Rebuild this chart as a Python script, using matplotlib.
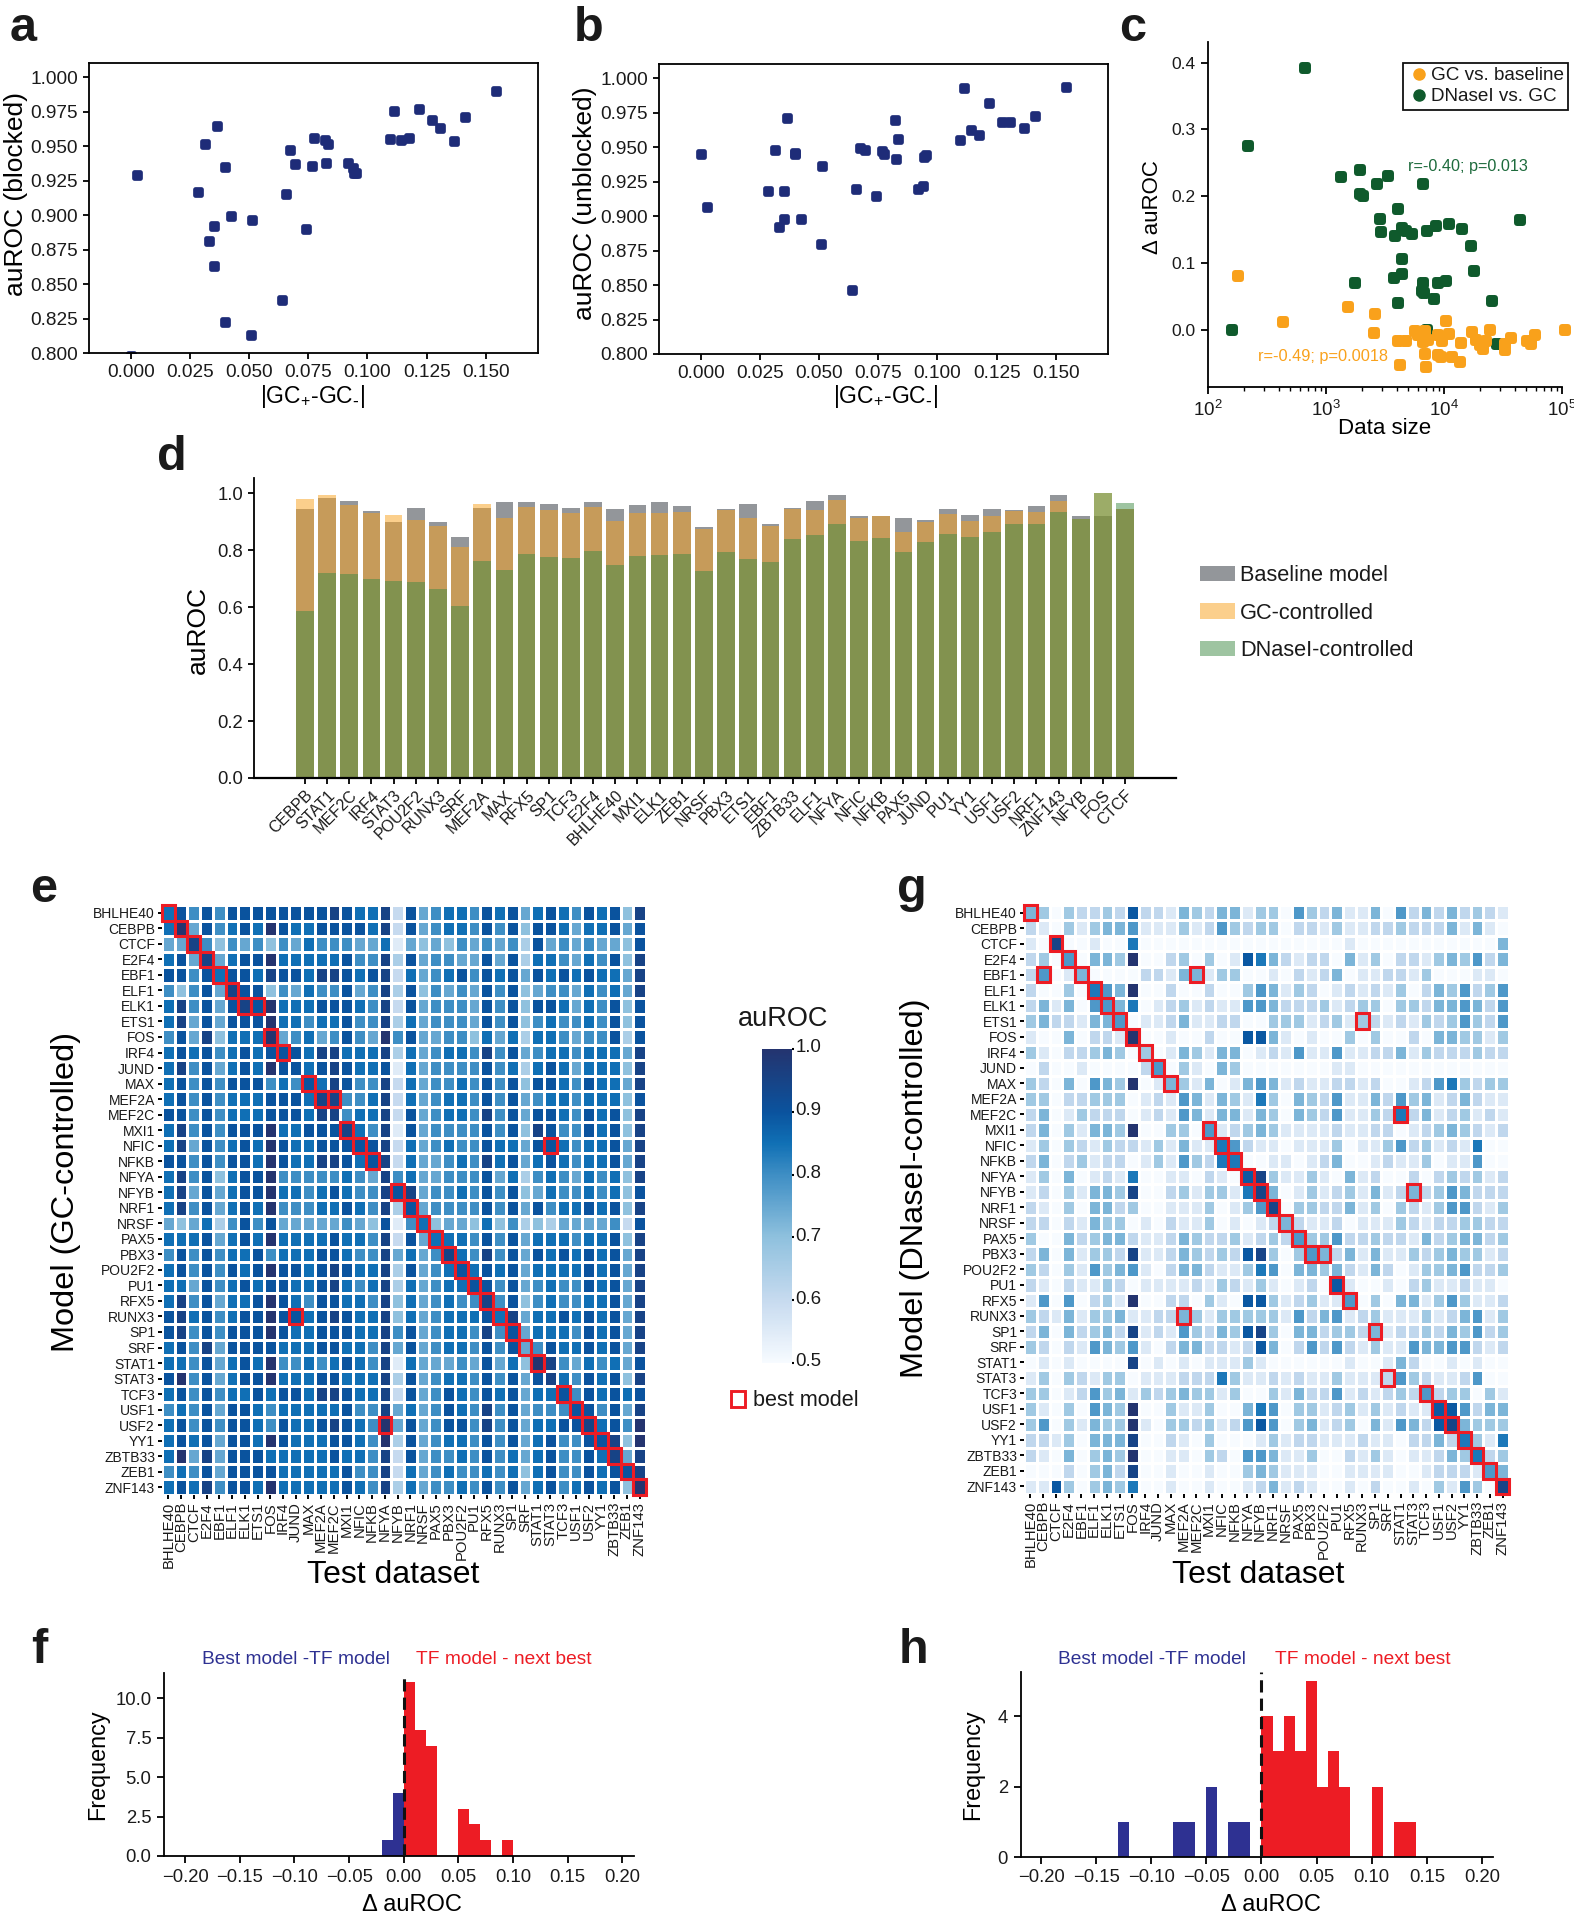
"""Figure with GC / DNaseI model comparison: scatter, bars, heatmaps, histograms."""

import matplotlib
matplotlib.use('Agg')
import matplotlib.pyplot as plt
import numpy as np
from matplotlib.colors import LinearSegmentedColormap
from matplotlib.lines import Line2D
from matplotlib.patches import Rectangle
from matplotlib.transforms import ScaledTranslation

plt.rcParams['font.family'] = ['Liberation Sans', 'DejaVu Sans']
plt.rcParams['mathtext.default'] = 'regular'
plt.rcParams['axes.linewidth'] = 1.3
plt.rcParams['text.color'] = '#1a1a1a'
plt.rcParams['xtick.labelcolor'] = '#1a1a1a'
plt.rcParams['ytick.labelcolor'] = '#1a1a1a'

W, H = 1574, 1920

NAVY = '#1e2c78'
BLUE = '#2e3192'
RED = '#ed1c24'
ORANGE = '#f9a11b'
GREEN = '#0f5a2c'

# panels a, b
gc_diff = [0, .0027, .0286, .0315, .0329, .035, .0352, .0365, .0398, .04, .0424, .0508, .0514,
           .0641, .0656, .0674, .0694, .0739, .0767, .0774, .082, .0823, .0833, .0917, .0938,
           .0944, .0953, .1094, .1114, .1141, .1174, .1217, .1274, .1305, .1364, .1411, .1542]
auroc_blocked = [.798, .9288, .9165, .9518, .8816, .892, .8632, .9646, .8228, .9351, .8993, .8131,
                 .8966, .8385, .915, .9475, .9368, .8901, .9354, .9559, .9547, .9375, .9516, .9375,
                 .9344, .9308, .9308, .955, .9755, .9545, .9562, .9772, .969, .9632, .954, .9714,
                 .9901]
auroc_unblocked = [.9448, .9065, .9186, .9482, .8923, .9186, .8983, .9714, .9448, .946, .8976, .8801,
                   .9363, .8465, .9199, .9494, .9479, .9143, .947, .9453, .9695, .9412, .9562, .9194,
                   .9218, .9431, .9441, .9552, .9927, .9625, .9591, .9823, .968, .968, .9637, .9726,
                   .9935]
ab_yticks = [.8, .825, .85, .875, .9, .925, .95, .975, 1.0]
ab_xticks = [0, .025, .05, .075, .1, .125, .15]

# panel c
dnase_size = [160, 663, 218, 1337, 1936, 2698, 3342, 6653, 1936, 2039, 4036, 2859, 2934, 3880, 4390,
              4808, 5370, 7195, 8515, 11050, 14140, 43800, 17060, 4390, 17870, 1745, 3755, 4390, 6653,
              8810, 10350, 6486, 6740, 8300, 4115, 25700, 7240, 28350]
dnase_delta = [0, .3925, .2753, .2294, .2394, .218, .2309, .218, .2035, .201, .1815, .1656, .1466,
               .1401, .1526, .1486, .1441, .1486, .1561, .1586, .1506, .1646, .1262, .1062, .0873,
               .0708, .0778, .0828, .0708, .0703, .0733, .0574, .0549, .0464, .0399, .0424, 0, -.0209]
gc_size = [181, 434, 1532, 2610, 2528, 10490, 5692, 6040, 6871, 6653, 7330, 4087, 4808, 8810, 9705,
           10970, 13870, 17400, 18830, 20090, 21430, 22860, 24720, 37240, 33130, 33130, 50550, 54970,
           58700, 105300, 6871, 8810, 9510, 11720, 13600, 4276, 7060]
gc_delta = [.0803, .012, .0339, .0239, -.0055, .0135, -.0025, -.008, -.0025, -.0185, -.015, -.0165,
            -.0165, -.0075, -.0165, -.0065, -.02, -.003, -.016, -.0224, -.0284, -.017, -.001, -.013,
            -.0214, -.0309, -.017, -.0214, -.0075, -.0005, -.0369, -.0374, -.0414, -.0414, -.0489,
            -.0524, -.0559]

# panel d
bar_tfs = ['CEBPB', 'STAT1', 'MEF2C', 'IRF4', 'STAT3', 'POU2F2', 'RUNX3', 'SRF', 'MEF2A', 'MAX',
           'RFX5', 'SP1', 'TCF3', 'E2F4', 'BHLHE40', 'MXI1', 'ELK1', 'ZEB1', 'NRSF', 'PBX3', 'ETS1',
           'EBF1', 'ZBTB33', 'ELF1', 'NFYA', 'NFIC', 'NFKB', 'PAX5', 'JUND', 'PU1', 'YY1', 'USF1',
           'USF2', 'NRF1', 'ZNF143', 'NFYB', 'FOS', 'CTCF']
baseline_auroc = [.945, .982, .972, .938, .898, .948, .898, .845, .946, .968, .970, .961, .946, .970,
                  .944, .959, .968, .954, .881, .944, .963, .891, .947, .972, .993, .919, .918, .913,
                  .905, .944, .922, .943, .941, .954, .992, .919, .92, .944]
gc_auroc = [.980, .994, .957, .930, .922, .907, .885, .81, .963, .912, .952, .941, .931, .952, .903,
            .931, .930, .934, .874, .940, .911, .885, .944, .94, .975, .911, .918, .865, .9, .926,
            .903, .919, .937, .934, .973, .909, 1.0, .944]
dnase_auroc = [.587, .718, .717, .697, .692, .689, .665, .605, .76, .73, .787, .776, .772, .796, .749,
               .779, .782, .787, .726, .795, .770, .759, .84, .852, .893, .833, .843, .794, .829,
               .856, .847, .865, .891, .891, .934, .909, 1.0, .965]

# panels e, g
tfs = ['BHLHE40', 'CEBPB', 'CTCF', 'E2F4', 'EBF1', 'ELF1', 'ELK1', 'ETS1', 'FOS', 'IRF4', 'JUND',
       'MAX', 'MEF2A', 'MEF2C', 'MXI1', 'NFIC', 'NFKB', 'NFYA', 'NFYB', 'NRF1', 'NRSF', 'PAX5',
       'PBX3', 'POU2F2', 'PU1', 'RFX5', 'RUNX3', 'SP1', 'SRF', 'STAT1', 'STAT3', 'TCF3', 'USF1',
       'USF2', 'YY1', 'ZBTB33', 'ZEB1', 'ZNF143']

# one digit per cell, auROC = 0.5 + step * digit, A = 10
gc_rows = [
    '7 8 6 8 6 8 8 8 8 8 8 8 8 9 8 7 7 9 2 8 5 6 7 7 6 8 7 8 5 7 8 7 6 8 7 8 4 9',
    '7 A 5 8 6 7 8 7 A 8 7 7 8 8 8 8 7 9 2 8 5 6 7 7 6 8 6 8 4 8 8 7 5 7 7 8 5 8',
    '5 5 9 6 4 6 5 6 4 6 5 7 6 6 6 5 5 7 1 5 4 5 4 6 5 6 5 6 3 8 5 6 5 6 5 5 4 8',
    '7 8 5 9 5 7 8 8 A 7 7 7 7 7 8 6 6 9 3 8 5 6 6 5 5 8 5 8 3 7 7 6 5 7 6 8 4 9',
    '8 8 6 8 7 8 8 7 9 8 8 7 9 9 8 7 8 9 2 7 5 6 7 8 6 8 7 8 5 8 7 8 7 8 7 7 5 9',
    '6 4 6 8 5 9 8 8 4 6 5 7 6 6 8 5 6 9 3 8 4 6 5 6 5 8 6 8 4 5 6 6 5 7 6 7 5 9',
    '7 9 6 8 5 8 9 8 A 7 7 7 8 8 8 7 6 9 2 8 5 6 6 6 5 8 6 8 4 8 8 7 5 7 6 8 4 8',
    '7 9 5 8 5 8 8 8 A 7 7 6 7 7 8 6 6 9 3 7 5 6 6 6 5 8 6 8 4 6 7 6 6 7 6 8 4 8',
    '6 8 5 9 4 7 7 7 A 5 6 7 5 6 8 6 5 A 6 8 5 5 6 6 4 7 5 7 3 7 7 6 5 6 6 8 3 8',
    '7 8 7 8 6 7 8 7 8 8 8 7 9 9 7 7 7 9 3 7 5 6 7 7 6 9 6 8 5 6 7 7 6 7 7 7 5 9',
    '7 9 6 8 5 7 8 7 A 8 8 7 8 9 8 7 7 8 1 7 5 6 6 6 6 8 6 7 3 7 8 7 5 7 7 7 4 9',
    '7 8 6 8 6 8 8 8 6 7 6 8 7 9 8 6 6 9 2 7 5 6 6 7 6 8 6 8 4 8 8 7 6 8 7 7 5 9',
    '7 8 6 8 6 7 7 7 8 8 8 7 9 9 6 6 7 9 2 7 5 6 7 7 6 8 6 8 5 6 7 7 6 7 7 7 4 8',
    '8 8 6 8 6 7 7 7 8 8 8 7 9 9 6 7 7 9 2 8 5 6 7 7 6 9 6 8 5 8 8 7 6 8 7 8 4 9',
    '7 9 6 8 6 8 8 8 A 7 7 8 8 8 9 7 6 9 1 8 5 6 6 6 6 8 6 8 4 9 8 6 6 8 7 8 4 9',
    '7 9 5 8 6 7 8 7 A 8 7 7 8 8 8 8 8 9 2 7 5 6 7 6 6 8 7 7 5 8 8 7 6 7 7 8 5 9',
    '8 8 6 8 6 8 8 7 A 8 7 7 9 9 8 7 8 9 2 7 5 5 6 7 6 9 7 8 5 7 8 7 6 7 7 8 5 9',
    '7 9 6 8 4 7 8 8 A 6 6 6 6 6 7 6 5 9 6 7 5 5 6 6 6 8 5 7 3 6 7 6 5 7 6 7 4 9',
    '7 9 5 8 5 7 8 8 A 7 7 6 7 8 7 6 6 9 8 9 5 6 6 7 6 8 6 8 4 5 7 6 6 7 6 7 4 8',
    '7 9 6 8 5 7 8 7 A 6 6 6 7 7 8 7 6 9 3 8 5 6 6 6 6 8 6 8 5 8 6 7 7 8 7 8 4 9',
    '5 4 5 7 3 6 8 6 8 5 5 5 5 5 6 5 4 8 1 6 7 4 5 5 4 7 4 6 3 4 3 5 5 5 5 6 2 8',
    '7 7 7 8 5 7 8 7 A 7 7 7 7 8 7 7 6 9 2 8 5 7 7 7 6 8 6 8 5 7 7 7 6 7 7 8 4 9',
    '6 8 6 8 6 7 7 8 6 7 7 7 8 8 7 6 6 9 5 7 5 6 9 7 6 9 6 8 5 8 7 8 7 8 7 8 5 9',
    '7 8 6 8 6 8 7 8 A 8 8 7 8 9 8 7 7 9 3 8 5 6 7 8 7 8 7 8 5 7 7 7 7 8 7 8 5 9',
    '7 7 5 8 6 7 8 7 8 8 7 7 8 9 7 6 7 9 3 7 5 6 7 7 8 8 6 8 5 6 7 6 6 8 7 8 5 9',
    '7 9 6 8 5 7 7 8 A 8 7 6 8 8 7 7 6 9 4 7 5 6 7 6 6 9 6 8 4 6 7 6 6 7 7 8 5 9',
    '8 9 7 8 6 7 8 8 A 8 8 7 8 9 8 7 7 9 4 7 5 6 7 7 7 8 7 9 5 7 7 8 7 8 7 8 5 9',
    '8 9 6 8 6 8 8 8 A 8 7 7 8 8 8 7 7 9 6 8 5 6 7 7 6 9 6 8 5 7 7 7 6 8 7 8 5 9',
    '7 8 6 9 5 8 8 8 8 7 7 7 8 8 7 7 6 9 5 8 5 6 7 7 6 8 6 8 5 6 8 7 7 8 7 8 5 9',
    '7 7 6 8 5 7 8 7 A 6 6 7 6 7 8 7 6 9 1 7 5 5 5 6 5 8 5 7 4 A 9 6 5 7 6 7 5 8',
    '8 A 6 8 5 7 8 8 A 7 7 7 8 8 7 7 7 9 3 8 5 6 7 7 6 8 6 8 5 8 9 7 6 8 7 8 4 9',
    '7 8 6 8 6 7 7 8 7 8 8 7 9 9 8 7 7 9 2 8 5 6 8 7 6 8 7 8 5 7 7 8 6 8 7 8 7 8',
    '6 7 6 8 5 8 8 7 6 7 7 7 7 7 8 6 6 9 5 7 5 6 8 7 6 9 6 8 5 6 6 6 8 8 6 8 5 9',
    '7 8 6 8 6 8 8 7 6 8 7 7 8 9 8 7 6 A 5 8 5 6 8 8 6 9 6 8 5 7 7 8 8 9 7 8 6 A',
    '7 8 7 8 5 8 8 7 A 8 7 7 7 8 8 7 6 A 3 8 5 6 7 7 6 8 6 8 5 7 8 6 6 8 8 9 4 A',
    '7 A 5 9 5 8 8 8 7 7 7 7 7 8 7 7 6 9 2 8 5 6 6 7 6 8 6 7 5 7 8 6 6 8 7 9 5 9',
    '6 7 6 8 5 8 8 8 8 7 7 7 7 7 8 6 6 9 2 7 5 6 7 6 6 7 6 7 4 7 8 6 6 8 7 8 8 9',
    '7 8 7 9 6 8 8 7 A 7 7 7 7 7 8 7 6 9 3 7 5 6 6 7 6 8 6 8 5 7 8 6 7 8 7 8 4 A',
]
dnase_rows = [
    '4 3 0 3 2 2 3 2 7 2 2 1 4 3 2 4 4 1 3 3 0 5 3 2 4 1 1 4 0 5 2 4 2 4 2 3 2 1',
    '2 1 0 3 1 3 4 4 5 1 1 1 3 1 2 5 3 2 3 3 0 2 2 1 3 1 1 2 2 3 2 2 2 4 1 4 1 0',
    '1 0 8 0 0 1 0 0 6 0 0 0 0 0 0 0 0 0 0 0 0 0 0 0 0 1 0 0 0 0 0 0 0 0 0 0 0 4',
    '2 3 0 5 0 4 4 3 A 0 0 2 3 0 3 0 1 7 6 4 2 1 2 2 0 4 1 3 0 2 2 1 3 4 3 5 2 4',
    '2 5 0 1 4 0 0 0 0 2 2 1 4 4 1 3 3 0 0 1 0 2 1 2 4 0 1 1 2 2 1 3 0 0 0 1 1 0',
    '2 0 0 3 0 6 5 4 A 0 0 2 0 0 2 0 0 3 5 4 1 3 2 0 1 2 1 2 1 3 0 2 4 3 5 2 3 5',
    '2 4 1 4 0 5 5 4 6 0 1 2 3 1 2 1 1 5 5 4 2 2 2 3 1 2 3 3 0 3 3 2 4 4 5 4 2 5',
    '3 4 2 2 1 4 4 5 0 1 1 2 4 1 1 2 2 0 0 3 3 3 1 2 3 1 3 2 1 2 1 3 2 3 5 3 2 5',
    '1 0 0 4 0 2 2 1 A 0 0 1 0 0 2 0 0 7 7 4 1 0 1 0 0 3 0 3 0 0 2 0 4 4 3 3 1 3',
    '3 1 0 2 2 3 4 3 0 3 0 1 4 3 1 4 4 0 1 2 1 5 1 1 5 1 1 2 2 4 1 3 2 2 2 3 2 2',
    '0 2 0 0 1 0 0 0 0 2 5 0 3 1 0 4 3 0 0 0 0 0 0 0 1 1 0 0 0 0 0 0 0 0 0 0 0 0',
    '3 2 0 4 0 5 4 3 A 0 1 4 3 1 4 0 1 4 5 4 1 2 1 1 2 2 1 2 0 0 1 2 5 6 3 2 3 3',
    '3 3 0 2 2 3 3 3 0 1 2 1 5 4 1 4 3 1 6 3 0 4 3 2 5 1 1 4 2 5 3 4 1 2 4 2 1 1',
    '2 4 0 1 3 2 2 2 0 1 2 1 5 4 1 4 4 1 4 3 0 4 3 2 5 1 1 3 2 6 2 4 1 2 3 1 2 1',
    '2 4 0 3 1 4 4 3 A 0 0 3 3 0 5 1 2 3 4 3 1 1 1 1 2 1 1 2 2 0 1 2 3 4 3 2 1 2',
    '1 3 0 3 2 1 3 2 2 1 3 1 4 1 1 6 5 2 1 1 0 1 1 1 3 0 1 1 3 5 2 3 1 2 1 6 0 0',
    '2 4 0 2 3 1 2 2 0 1 3 1 5 3 2 6 6 0 0 1 1 0 1 2 4 0 0 1 2 1 1 3 0 1 1 5 0 0',
    '1 3 0 4 0 1 2 1 6 0 0 1 1 0 2 1 0 7 8 3 1 1 3 1 0 4 1 2 0 0 2 0 2 3 2 3 1 2',
    '1 2 0 3 1 4 4 3 8 0 0 2 3 1 3 3 1 6 8 4 0 1 3 1 2 3 1 4 1 2 4 2 3 5 4 2 2 2',
    '2 1 0 3 0 4 4 2 3 0 0 1 1 1 3 0 1 3 5 8 0 3 3 2 2 4 1 3 0 3 2 1 3 5 5 2 1 3',
    '2 2 0 2 1 4 3 3 0 1 0 2 1 1 3 0 1 0 1 2 4 2 1 1 2 0 1 1 1 3 2 1 2 2 3 3 2 2',
    '3 0 0 4 2 3 4 4 2 1 1 2 4 3 2 2 3 1 2 3 2 5 3 3 5 2 2 3 2 2 1 4 2 3 4 4 2 3',
    '2 4 0 4 1 3 3 2 8 1 1 2 4 3 2 3 2 7 8 3 0 3 5 4 2 4 1 4 1 1 3 2 3 4 3 3 1 2',
    '3 2 0 3 1 5 3 4 5 1 0 2 4 4 2 1 1 3 6 5 0 4 4 3 4 2 1 4 2 0 1 3 3 4 5 2 2 3',
    '2 1 0 2 1 1 3 2 0 1 1 1 1 2 1 3 2 1 3 1 0 1 2 0 7 1 0 0 1 0 2 3 1 1 2 1 1 0',
    '1 5 0 5 0 2 3 1 A 0 0 2 2 0 3 1 0 7 7 3 1 2 3 1 1 5 0 3 0 4 4 1 3 5 3 1 1 2',
    '3 2 1 4 1 3 3 4 1 1 2 2 4 3 1 3 3 3 3 3 1 5 2 4 5 1 2 3 1 1 1 3 1 2 4 5 1 3',
    '2 4 0 4 2 3 4 2 8 1 2 1 5 3 2 4 3 7 8 3 0 4 4 2 3 3 2 4 1 2 2 3 2 4 3 5 2 3',
    '3 2 0 2 1 5 4 3 5 1 0 2 4 4 2 2 1 2 7 4 0 2 5 2 5 2 1 3 1 1 5 4 4 5 5 2 1 2',
    '0 1 0 1 0 0 0 0 8 0 1 0 1 0 1 1 1 3 1 0 0 0 0 0 0 1 0 0 1 4 2 0 0 1 0 1 0 0',
    '1 3 0 3 2 1 3 3 0 1 1 1 2 2 2 6 3 1 1 2 1 2 1 1 3 1 1 1 2 5 3 2 1 1 2 5 0 0',
    '3 3 0 1 2 5 3 4 1 3 2 3 4 3 3 1 3 0 0 3 1 4 2 2 5 1 2 1 2 3 2 5 2 3 3 0 3 1',
    '3 1 0 3 0 5 4 3 A 0 0 3 1 1 3 0 0 4 6 5 0 3 3 1 2 3 1 3 1 2 1 1 7 7 5 2 4 4',
    '3 5 0 3 1 4 3 3 A 1 0 3 3 2 3 1 2 5 7 5 0 3 4 1 2 3 0 4 1 5 4 2 7 8 4 3 3 3',
    '2 2 1 3 0 4 4 4 8 0 0 2 1 0 3 0 0 0 1 3 1 2 2 1 1 1 2 1 1 0 2 2 4 2 6 3 1 6',
    '2 1 0 4 0 3 4 3 A 0 0 1 1 0 3 2 0 5 5 4 1 1 3 0 0 2 1 3 1 0 1 1 2 4 3 6 2 3',
    '0 0 0 2 0 3 4 2 8 0 0 1 0 0 1 0 0 3 4 3 1 1 1 0 0 1 1 1 1 0 0 1 2 2 2 1 5 4',
    '1 1 7 3 0 3 4 3 6 0 0 1 0 0 1 0 0 1 2 4 1 2 1 0 0 1 0 2 0 0 1 0 3 1 5 3 0 8',
]

# (row, column) of the best-model cells
gc_best = [(0, 0), (1, 1), (2, 2), (3, 3), (4, 4), (5, 5), (6, 6), (6, 7), (8, 8), (9, 9), (11, 11),
           (12, 12), (12, 13), (14, 14), (15, 15), (15, 30), (16, 16), (18, 18), (19, 19), (20, 20),
           (21, 21), (22, 22), (23, 23), (24, 24), (25, 25), (26, 26), (26, 10), (27, 27), (28, 28),
           (29, 29), (31, 31), (32, 32), (33, 33), (33, 17), (34, 34), (35, 35), (36, 36), (37, 37)]
dnase_best = [(0, 0), (2, 2), (3, 3), (4, 1), (4, 4), (4, 13), (5, 5), (6, 6), (7, 7), (7, 26), (8, 8),
              (9, 9), (10, 10), (11, 11), (13, 29), (14, 14), (15, 15), (16, 16), (17, 17), (18, 18),
              (18, 30), (19, 19), (20, 20), (21, 21), (22, 22), (22, 23), (24, 24), (25, 25), (26, 12),
              (27, 27), (30, 28), (31, 31), (32, 32), (33, 33), (34, 34), (35, 35), (36, 36), (37, 37)]

# panels f, h: histogram bins of width 0.01, left edge and count
f_blue_edges = [-.02, -.01]
f_blue_counts = [1, 4]
f_red_edges = [0, .01, .02, .05, .06, .07, .09]
f_red_counts = [11, 8, 7, 3, 2, 1, 1]
h_blue_edges = [-.13, -.08, -.07, -.05, -.03, -.02]
h_blue_counts = [1, 1, 1, 2, 1, 1]
h_red_edges = [0, .01, .02, .03, .04, .05, .06, .07, .10, .12, .13]
h_red_counts = [4, 3, 4, 3, 5, 2, 3, 2, 2, 1, 1]
hist_xticks = [-.2, -.15, -.1, -.05, 0, .05, .1, .15, .2]


def add_axes(fig, left, top, right, bottom):
    # pixel box of the reference -> figure fractions
    return fig.add_axes([left / W, 1 - bottom / H, (right - left) / W, (bottom - top) / H])


def fig_text(fig, x, y, s, **kw):
    kw.setdefault('ha', 'center')
    kw.setdefault('va', 'center')
    return fig.text(x / W, 1 - y / H, s, **kw)


def set_labels(fig, ax, xlabel, xpos, xsize, ylabel, ypos, ysize):
    ax.set_xlabel(xlabel, fontsize=xsize, va='center')
    ax.xaxis.set_label_coords(xpos[0] / W, 1 - xpos[1] / H, transform=fig.transFigure)
    ax.set_ylabel(ylabel, fontsize=ysize, va='center')
    ax.yaxis.set_label_coords(ypos[0] / W, 1 - ypos[1] / H, transform=fig.transFigure)


def gc_scatter(ax, y):
    ax.scatter(gc_diff, y, s=20, marker='s', color=NAVY, linewidths=3.4, joinstyle='round')
    ax.set_xticks(ab_xticks)
    ax.set_xticklabels([f'{v:.3f}' for v in ab_xticks])
    ax.set_yticks(ab_yticks)
    ax.set_yticklabels([f'{v:.3f}' for v in ab_yticks])
    ax.tick_params(labelsize=13.7, length=4, width=1.3, pad=4)


def draw_heatmap(ax, rows, best, cmap, step=0.05):
    digits = [[10 if c == 'A' else int(c) for c in row.split()] for row in rows]
    values = np.minimum(0.5 + step * np.array(digits), 1.0)
    mesh = ax.pcolormesh(values, cmap=cmap, vmin=0.5, vmax=1.0, edgecolors='white', linewidth=1.0)
    ax.set_ylim(len(tfs), 0)
    ax.set_xlim(0, len(tfs))
    ax.set_xticks(np.arange(len(tfs)) + 0.5)
    ax.set_xticklabels(tfs, rotation=90, fontsize=10.7)
    ax.set_yticks(np.arange(len(tfs)) + 0.5)
    ax.set_yticklabels(tfs, fontsize=10)
    ax.tick_params(length=3, width=1.4, pad=2)
    for s in ax.spines.values():
        s.set_visible(False)
    for r, c in best:
        ax.add_patch(Rectangle((c, r), 1, 1, fill=False, edgecolor=RED, lw=2.2,
                               clip_on=False, zorder=5))
    return mesh


def draw_hist(ax, blue_edges, blue_counts, red_edges, red_counts, xlim, ylim, yticks, yfmt):
    ax.bar(blue_edges, blue_counts, width=0.01, align='edge', color=BLUE)
    ax.bar(red_edges, red_counts, width=0.01, align='edge', color=RED)
    ax.axvline(0, color='#111111', lw=2.2, ls=(0, (4, 2)), zorder=5)
    ax.set_xlim(*xlim)
    ax.set_ylim(*ylim)
    ax.set_xticks(hist_xticks)
    ax.set_xticklabels([f'{v:.2f}'.replace('-', '\u2212') for v in hist_xticks])
    ax.set_yticks(yticks)
    ax.set_yticklabels([yfmt.format(v) for v in yticks])
    ax.tick_params(labelsize=13.3, length=5, width=1.3, pad=4)
    ax.spines['top'].set_visible(False)
    ax.spines['right'].set_visible(False)


def main():
    fig = plt.figure(figsize=(W / 100, H / 100), dpi=100)

    for x, y, s in [(23, 41, 'a'), (589, 41, 'b'), (1133, 41, 'c'), (172, 470, 'd'), (44, 902, 'e'),
                    (39, 1663, 'f'), (912, 902, 'g'), (913, 1663, 'h')]:
        fig_text(fig, x, y, s, fontsize=35, fontweight='bold', va='baseline')

    gc_label = r'|GC$_{+}$-GC$_{\text{-}}$|'

    # a
    ax = add_axes(fig, 89, 63, 538, 353)
    gc_scatter(ax, auroc_blocked)
    ax.set_xlim(-0.0176, 0.172)
    ax.set_ylim(0.8, 1.0104)
    set_labels(fig, ax, gc_label, (312, 397), 16.5, 'auROC (blocked)', (16, 194), 19)

    # b
    ax = add_axes(fig, 659, 64, 1108, 354)
    gc_scatter(ax, auroc_unblocked)
    ax.set_xlim(-0.0176, 0.172)
    ax.set_ylim(0.8, 1.0104)
    set_labels(fig, ax, gc_label, (885, 397), 16.5, 'auROC (unblocked)', (585, 203), 19)

    # c
    ax = add_axes(fig, 1208, 42, 1562, 387)
    ax.scatter(dnase_size, dnase_delta, s=17, marker='s', color=GREEN, linewidths=4.3, joinstyle='round',
               zorder=2, clip_on=False)
    ax.scatter(gc_size, gc_delta, s=17, marker='s', color=ORANGE, linewidths=4.3, joinstyle='round',
               zorder=3, clip_on=False)
    ax.set_xscale('log')
    ax.set_xlim(1e2, 1e5)
    ax.set_ylim(-0.0857, 0.431)
    ax.set_yticks([0, .1, .2, .3, .4])
    ax.set_yticklabels(['0.0', '0.1', '0.2', '0.3', '0.4'])
    ax.tick_params(labelsize=12.5, length=5, width=1.3, pad=4)
    ax.tick_params(axis='x', which='major', labelsize=13.5)
    ax.tick_params(which='minor', length=3, width=1)
    ax.spines['top'].set_visible(False)
    ax.spines['right'].set_visible(False)
    set_labels(fig, ax, 'Data size', (1385, 428), 16, '\u0394 auROC', (1153, 207), 16)
    handles = [Line2D([], [], ls='', marker='o', ms=8, color=ORANGE, label='GC vs. baseline'),
               Line2D([], [], ls='', marker='o', ms=8, color=GREEN, label='DNaseI vs. GC')]
    leg = ax.legend(handles=handles, loc='upper right', fontsize=13.6, frameon=True, fancybox=False,
                    framealpha=1, edgecolor='#111111', borderpad=0.22, handletextpad=0.05,
                    handlelength=1.2, labelspacing=0.2,
                    bbox_to_anchor=(1568 / W, 1 - 63 / H), bbox_transform=fig.transFigure, borderaxespad=0)
    leg.get_frame().set_linewidth(1.3)
    fig_text(fig, 1408, 166, 'r=-0.40; p=0.013', color='#1d6b3c', fontsize=11.7, ha='left')
    fig_text(fig, 1258, 356, 'r=-0.49; p=0.0018', color=ORANGE, fontsize=11.8, ha='left')

    # d
    ax = add_axes(fig, 254, 478, 1176, 778)
    x = np.arange(len(bar_tfs))
    ax.bar(x, baseline_auroc, width=0.8, color='#808488', alpha=0.85, label='Baseline model')
    ax.bar(x, gc_auroc, width=0.8, color=ORANGE, alpha=0.5, label='GC-controlled')
    ax.bar(x, dnase_auroc, width=0.8, color='#3f8a45', alpha=0.5, label='DNaseI-controlled')
    ax.set_xlim(-2.3, 39.3)
    ax.set_ylim(0, 1.053)
    ax.set_xticks(x)
    ax.set_xticklabels(bar_tfs, rotation=45, ha='right', rotation_mode='anchor', fontsize=11.5)
    ax.set_yticks([0, .2, .4, .6, .8, 1.0])
    ax.set_yticklabels(['0.0', '0.2', '0.4', '0.6', '0.8', '1.0'])
    ax.tick_params(axis='y', labelsize=13.3, length=4, width=1.3, pad=4)
    ax.tick_params(axis='x', length=4, width=1.3, pad=3)
    ax.spines['top'].set_visible(False)
    ax.spines['right'].set_visible(False)
    ax.spines['bottom'].set_linewidth(1.6)
    ax.set_ylabel('auROC', fontsize=19, va='center')
    ax.yaxis.set_label_coords(198 / W, 1 - 630 / H, transform=fig.transFigure)
    ax.legend(loc='upper left', fontsize=15.7, frameon=False, handlelength=1.6, handleheight=0.7,
              handletextpad=0.25, labelspacing=0.76, borderaxespad=0, borderpad=0,
              bbox_to_anchor=(1200 / W, 1 - 565 / H), bbox_transform=fig.transFigure)

    # e, g
    cmap = LinearSegmentedColormap.from_list(
        'auroc', [(0, '#f7fbff'), (.2, '#c6daef'), (.4, '#8fc1de'), (.6, '#3e8ec4'),
                  (.7, '#1070b5'), (.8, '#0a539e'), (1, '#24346f')])
    ax = add_axes(fig, 162, 905, 646, 1495)
    mesh = draw_heatmap(ax, gc_rows, gc_best, cmap)
    set_labels(fig, ax, 'Test dataset', (393, 1575), 23, 'Model (GC-controlled)', (66, 1192), 23.4)

    ax = add_axes(fig, 1024, 905, 1509, 1494)
    draw_heatmap(ax, dnase_rows, dnase_best, cmap, step=0.056)
    set_labels(fig, ax, 'Test dataset', (1258, 1575), 23, 'Model (DNaseI-controlled)', (915, 1188), 23.4)

    # colorbar
    cax = add_axes(fig, 762, 1049, 792, 1363)
    cbar = fig.colorbar(mesh, cax=cax, ticks=[.5, .6, .7, .8, .9, 1.0])
    cbar.outline.set_visible(False)
    cbar.ax.tick_params(labelsize=13.4, length=1.5, width=1.5, pad=1)
    cbar.ax.set_yticklabels(['0.5', '0.6', '0.7', '0.8', '0.9', '1.0'])
    shift = ScaledTranslation(0, 3 / 100, fig.dpi_scale_trans)
    for t in cbar.ax.get_yticklabels():
        t.set_transform(t.get_transform() + shift)
    fig_text(fig, 783, 1019, 'auROC', fontsize=19.5)
    fig.add_artist(Rectangle((731 / W, 1 - 1407 / H), 14 / W, 16 / H, fill=False, edgecolor=RED, lw=2.1,
                             transform=fig.transFigure))
    fig_text(fig, 753, 1400, 'best model', fontsize=15.6, ha='left')

    # f
    ax = add_axes(fig, 164, 1673, 634, 1856)
    draw_hist(ax, f_blue_edges, f_blue_counts, f_red_edges, f_red_counts,
              (-.2194, .2107), (0, 11.6), [0, 2.5, 5, 7.5, 10], '{:.1f}')
    set_labels(fig, ax, '\u0394 auROC', (412, 1905), 17, 'Frequency', (98, 1765), 16.8)
    fig_text(fig, 296, 1660, 'Best model -TF model', color=BLUE, fontsize=13.8)
    fig_text(fig, 504, 1660, 'TF model - next best', color=RED, fontsize=13.8)

    # h
    ax = add_axes(fig, 1020.5, 1672, 1493, 1857)
    draw_hist(ax, h_blue_edges, h_blue_counts, h_red_edges, h_red_counts,
              (-.2186, .21), (0, 5.26), [0, 2, 4], '{:d}')
    set_labels(fig, ax, '\u0394 auROC', (1271, 1905), 17, 'Frequency', (973, 1765), 16.8)
    fig_text(fig, 1152, 1660, 'Best model -TF model', color=BLUE, fontsize=13.8)
    fig_text(fig, 1363, 1660, 'TF model - next best', color=RED, fontsize=13.8)

    fig.savefig('out.png', dpi=100)
    plt.close(fig)


if __name__ == '__main__':
    main()
